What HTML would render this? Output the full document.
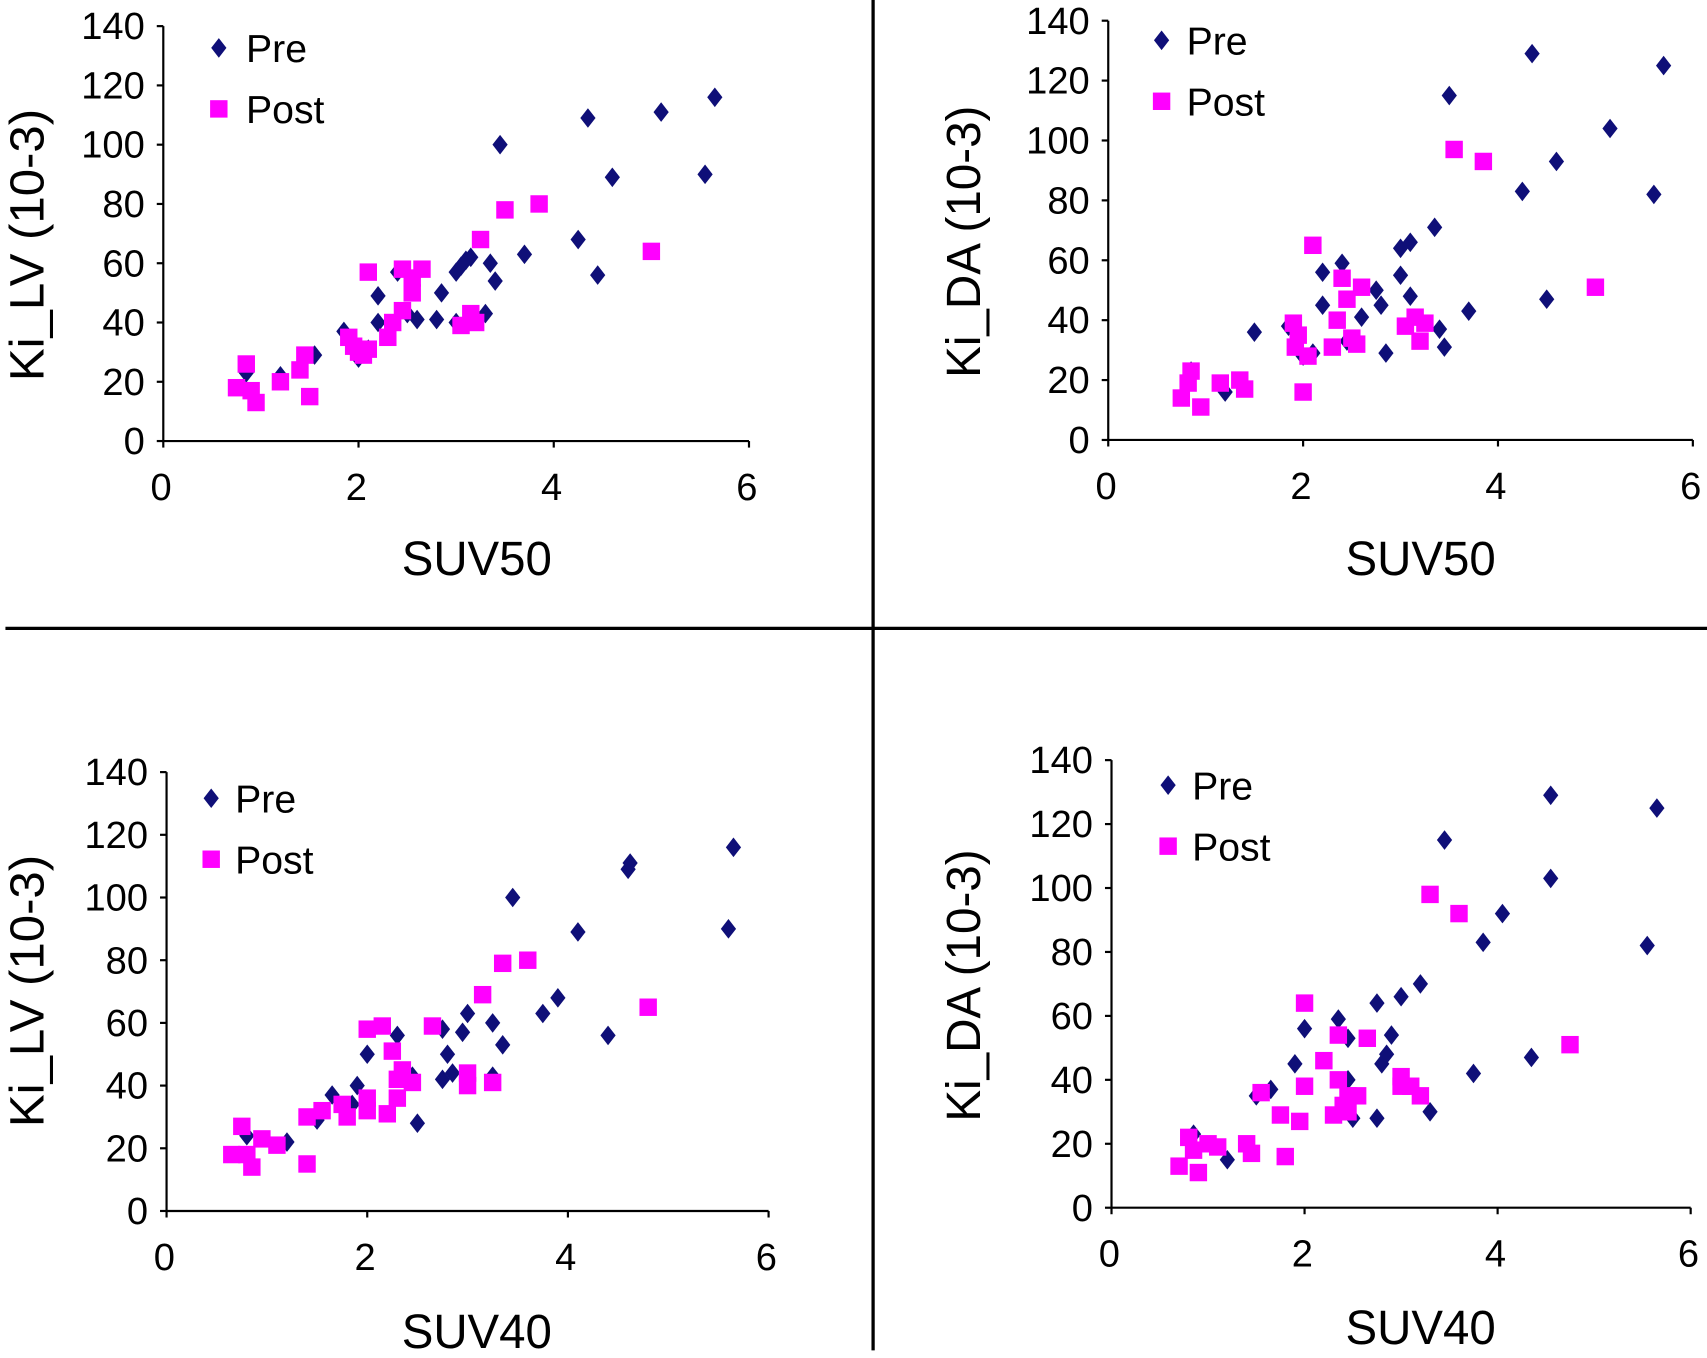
<!DOCTYPE html>
<html><head><meta charset="utf-8"><style>
html,body{margin:0;padding:0;background:#fff;}
svg{display:block;font-family:"Liberation Sans",sans-serif;}
</style></head><body>
<svg id="fig" width="1707" height="1358" viewBox="0 0 1568 1247" preserveAspectRatio="none" xmlns="http://www.w3.org/2000/svg">
<line x1="802" y1="0" x2="802" y2="1240" stroke="#000" stroke-width="3"/>
<line x1="5" y1="577" x2="1568" y2="577" stroke="#000" stroke-width="3"/>
</svg>
<script>
const xTicks=[0,2,4,6];
const yTicks=[0,20,40,60,80,100,120,140];
const tlPreX=[0.85,1.2,1.55,1.85,2.0,2.1,2.2,2.2,2.4,2.5,2.6,2.8,2.85,3.0,3.05,3.1,3.15,3.3,3.35,3.4,3.45,3.7,4.25,4.35,4.45,4.6,5.1,5.55,5.65,3.0];
const tlPreY=[23,22,29,37,28,31,49,40,57,43,41,41,50,57,59,61,62,43,60,54,100,63,68,109,56,89,111,90,116,40];
const tlPostX=[0.75,0.85,0.9,0.95,1.2,1.4,1.45,1.5,1.9,1.95,2.0,2.05,2.1,2.1,2.3,2.35,2.45,2.45,2.55,2.55,2.65,3.05,3.15,3.2,3.25,3.5,3.85,5.0];
const tlPostY=[18,26,17,13,20,24,29,15,35,32,30,29,31,57,35,40,44,58,50,55,58,39,43,40,68,78,80,64];
const trPreX=[0.85,1.2,1.5,1.85,2.0,2.1,2.2,2.2,2.4,2.45,2.6,2.75,2.8,2.85,3.0,3.0,3.1,3.1,3.35,3.4,3.45,3.5,3.7,4.25,4.35,4.5,4.6,5.15,5.6,5.7];
const trPreY=[23,16,36,38,28,29,45,56,59,33,41,50,45,29,55,64,48,66,71,37,31,115,43,83,129,47,93,104,82,125];
const trPostX=[0.75,0.82,0.85,0.95,1.15,1.35,1.4,1.9,1.92,1.95,2.0,2.05,2.1,2.3,2.35,2.4,2.45,2.5,2.55,2.6,3.05,3.15,3.2,3.25,3.55,3.85,5.0];
const trPostY=[14,19,23,11,19,20,17,39,31,35,16,28,65,31,40,54,47,34,32,51,38,41,33,39,97,93,51];
const blPreX=[0.8,1.2,1.5,1.65,1.85,1.9,2.0,2.3,2.45,2.5,2.75,2.75,2.8,2.85,2.95,3.0,3.25,3.25,3.35,3.45,3.75,3.9,4.1,4.4,4.6,4.62,5.6,5.65];
const blPreY=[24,22,29,37,34,40,50,56,43,28,42,58,50,44,57,63,43,60,53,100,63,68,89,56,109,111,90,116];
const blPostX=[0.65,0.75,0.8,0.85,0.95,1.1,1.4,1.4,1.55,1.75,1.8,2.0,2.0,2.0,2.15,2.2,2.25,2.3,2.3,2.35,2.45,2.65,3.0,3.0,3.15,3.25,3.35,3.6,4.8];
const blPostY=[18,27,18,14,23,21,30,15,32,34,30,58,36,32,59,31,51,42,36,45,41,59,44,40,69,41,79,80,65];
const brPreX=[0.85,1.2,1.5,1.65,1.9,2.0,2.35,2.45,2.45,2.5,2.75,2.75,2.8,2.85,2.9,3.0,3.2,3.3,3.45,3.75,3.85,4.05,4.35,4.55,4.55,5.55,5.65];
const brPreY=[23,15,35,37,45,56,59,40,53,28,64,28,45,48,54,66,70,30,115,42,83,92,47,129,103,82,125];
const brPostX=[0.7,0.8,0.85,0.9,1.0,1.1,1.4,1.45,1.55,1.75,1.8,1.95,2.0,2.0,2.2,2.3,2.35,2.35,2.4,2.45,2.45,2.55,2.65,3.0,3.0,3.1,3.2,3.3,3.6,4.75];
const brPostY=[13,22,18,11,20,19,20,17,36,29,16,27,38,64,46,29,54,40,32,35,30,35,53,38,41,38,35,98,92,51];

const NS="http://www.w3.org/2000/svg";
const svg=document.getElementById('fig');
function mk(tag,attrs,parent){const e=document.createElementNS(NS,tag);for(const k in attrs)e.setAttribute(k,attrs[k]);(parent||svg).appendChild(e);return e;}
const panels=[
 {id:'top-left',x0:150,x1:688,y0:405,y1:24,xt:'SUV50',yt:'Ki_LV (10-3)',xtc:[438,512],ytc:[25,225],leg:[201,44,226],px:tlPreX,py:tlPreY,qx:tlPostX,qy:tlPostY},
 {id:'top-right',x0:1018,x1:1555,y0:404,y1:19,xt:'SUV50',yt:'Ki_DA (10-3)',xtc:[1305,512],ytc:[885,222],leg:[1067,37,1090],px:trPreX,py:trPreY,qx:trPostX,qy:trPostY},
 {id:'bottom-left',x0:153,x1:706,y0:1112,y1:709,xt:'SUV40',yt:'Ki_LV (10-3)',xtc:[438,1222],ytc:[25,910],leg:[194,733,216],px:blPreX,py:blPreY,qx:blPostX,qy:blPostY},
 {id:'bottom-right',x0:1021,x1:1553,y0:1109,y1:698,xt:'SUV40',yt:'Ki_DA (10-3)',xtc:[1305,1218],ytc:[885,905],leg:[1073,721,1095],px:brPreX,py:brPreY,qx:brPostX,qy:brPostY}
];
panels.forEach(p=>{
 const g=mk('g',{});
 
 
 const sx=v=>p.x0+(p.x1-p.x0)*v/6;
 const sy=v=>p.y0+(p.y1-p.y0)*v/140;
 const ya=mk('line',{x1:p.x0,y1:p.y0,x2:p.x0,y2:p.y1,stroke:'#000','stroke-width':2},g);
 
 
 const xa=mk('line',{x1:p.x0,y1:p.y0,x2:p.x1,y2:p.y0,stroke:'#000','stroke-width':2},g);
 
 
 yTicks.forEach(t=>{
  mk('line',{x1:p.x0-6,y1:sy(t),x2:p.x0,y2:sy(t),stroke:'#000','stroke-width':2},g);
  const tx=mk('text',{x:p.x0-17,y:sy(t)+12,'text-anchor':'end','font-size':35},g);
  tx.textContent=t;
  
  
 });
 xTicks.forEach(t=>{
  mk('line',{x1:sx(t),y1:p.y0,x2:sx(t),y2:p.y0+6,stroke:'#000','stroke-width':2},g);
  const tx=mk('text',{x:sx(t)-2,y:p.y0+54,'text-anchor':'middle','font-size':35},g);
  tx.textContent=t;
  
  
 });
 const xt=mk('text',{x:p.xtc[0],y:p.xtc[1]+16,'text-anchor':'middle','font-size':44,textLength:138,lengthAdjust:'spacingAndGlyphs'},g);
 xt.textContent=p.xt;
 
 
 const yt=mk('text',{x:0,y:0,'text-anchor':'middle','font-size':44,textLength:250,lengthAdjust:'spacingAndGlyphs',transform:`translate(${p.ytc[0]+15},${p.ytc[1]}) rotate(-90)`},g);
 yt.textContent=p.yt;
 
 
 p.px.forEach((v,i)=>{
  const cx=sx(v),cy=sy(p.py[i]);
  const d=mk('polygon',{points:`${cx},${cy-9} ${cx+7},${cy} ${cx},${cy+9} ${cx-7},${cy}`,fill:'#0f0f78'},g);
  
  
 });
 p.qx.forEach((v,i)=>{
  const cx=sx(v),cy=sy(p.qy[i]);
  const r=mk('rect',{x:cx-8,y:cy-8,width:16,height:16,fill:'#ff00ff'},g);
  
  
 });
 const [lx,ly,tx0]=p.leg;
 const ld=mk('polygon',{points:`${lx},${ly-9} ${lx+7},${ly} ${lx},${ly+9} ${lx-7},${ly}`,fill:'#0f0f78'},g);
 
 
 const lt=mk('text',{x:tx0,y:ly+13,'font-size':36},g);
 lt.textContent='Pre';
 
 
 const lr=mk('rect',{x:lx-8,y:ly+56-8,width:16,height:16,fill:'#ff00ff'},g);
 
 
 const lt2=mk('text',{x:tx0,y:ly+56+13,'font-size':36},g);
 lt2.textContent='Post';
 
 
});
</script>
</body></html>
